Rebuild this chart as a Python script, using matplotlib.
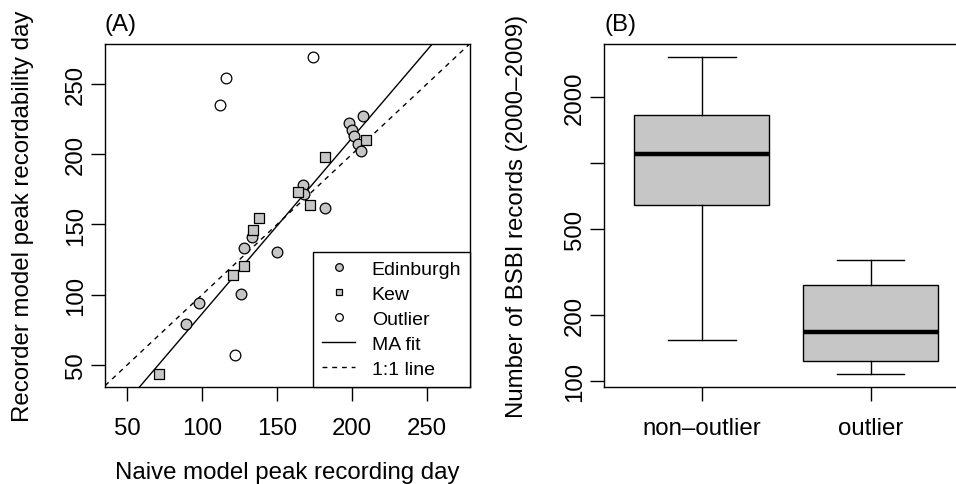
import matplotlib
matplotlib.use("Agg")
import matplotlib.pyplot as plt
from matplotlib.lines import Line2D

plt.rcParams['font.family'] = ['Liberation Sans', 'DejaVu Sans']

# Panel A: peak day estimates (naive vs recorder model)
edi_naive = [89.1, 98.0, 126.3, 127.8, 133.1, 150.0, 167.3, 168.0, 182.3,
             198.3, 200.3, 201.1, 204.0, 206.3, 207.1]
edi_recorder = [79.4, 94.4, 100.3, 133.2, 141.3, 130.4, 178.2, 171.8, 161.4,
                222.3, 217.3, 213.3, 207.4, 202.2, 227.5]
kew_naive = [71.1, 120.7, 128.0, 134.0, 138.0, 164.0, 172.2, 182.3, 209.1]
kew_recorder = [43.9, 114.3, 120.2, 146.2, 154.3, 173.2, 164.2, 198.3, 210.4]
out_naive = [116.3, 112.2, 174.0, 122.3]
out_recorder = [254.1, 235.1, 269.0, 57.2]

ma_intercept = -38.5
ma_slope = 1.25

# Panel B: number of BSBI records, boxplot summaries
groups = ["non\u2013outlier", "outlier"]
whislo = [154, 108]
q1 = [643, 123]
med = [1095, 168]
q3 = [1661, 276]
whishi = [3073, 359]

yticks_b = [100, 200, 500, 1000, 2000]
yticklabels_b = ["100", "200", "500", "", "2000"]

grey = "#c6c6c6"
fs = 17.3

W, H = 956, 485
fig = plt.figure(figsize=(W / 100, H / 100), dpi=100)
ax1 = fig.add_axes([105 / W, (H - 387.7) / H, 365 / W, 342.7 / H])
ax2 = fig.add_axes([604 / W, (H - 387.7) / H, 364.5 / W, 342.7 / H])

# ---- panel A
ax1.scatter(edi_naive, edi_recorder, s=7.7 ** 2, marker="o", facecolor=grey,
            edgecolor="black", linewidth=0.9, zorder=3)
ax1.scatter(kew_naive, kew_recorder, s=6.7 ** 2, marker="s", facecolor=grey,
            edgecolor="black", linewidth=0.9, zorder=3)
ax1.scatter(out_naive, out_recorder, s=7.7 ** 2, marker="o", facecolor="white",
            edgecolor="black", linewidth=0.9, zorder=3)
ax1.axline((0, ma_intercept), slope=ma_slope, color="black", lw=1.0)
ax1.axline((0, 0), slope=1, color="black", lw=1.0, ls=(0, (3.5, 3.5)))

ax1.set_xlim(35.3, 278.7)
ax1.set_ylim(34.6, 278.4)
ax1.set_xticks([50, 100, 150, 200, 250])
ax1.set_yticks([50, 100, 150, 200, 250])
ax1.set_xlabel("Naive model peak recording day", fontsize=fs, va="center")
ax1.set_ylabel("Recorder model peak recordability day", fontsize=fs, va="center")
ax1.xaxis.set_label_coords(0.5, -0.25)
ax1.yaxis.set_label_coords(-0.225, 0.5)
ax1.set_title("(A)", loc="left", fontsize=fs, pad=10)

handles = [
    Line2D([], [], marker="o", ls="none", markersize=5.5, markerfacecolor=grey,
           markeredgecolor="black", markeredgewidth=0.9),
    Line2D([], [], marker="s", ls="none", markersize=5, markerfacecolor=grey,
           markeredgecolor="black", markeredgewidth=0.9),
    Line2D([], [], marker="o", ls="none", markersize=5.5, markerfacecolor="white",
           markeredgecolor="black", markeredgewidth=0.9),
    Line2D([], [], color="black", lw=1.0),
    Line2D([], [], color="black", lw=1.0, ls=(0, (3.5, 3.5))),
]
leg = ax1.legend(handles, ["Edinburgh", "Kew", "Outlier", "MA fit", "1:1 line"],
                 loc="lower right", bbox_to_anchor=(1, 0), borderaxespad=0,
                 fontsize=14, fancybox=False, framealpha=1, edgecolor="black",
                 borderpad=0.45, labelspacing=0.38, handlelength=1.7,
                 handletextpad=0.85)
leg.get_frame().set_linewidth(1.0)
leg.set_zorder(5)

# ---- panel B
stats = [dict(med=med[i], q1=q1[i], q3=q3[i], whislo=whislo[i], whishi=whishi[i],
              label=groups[i]) for i in range(len(groups))]
ax2.bxp(stats, positions=[1, 2], widths=0.8, showfliers=False, patch_artist=True,
        boxprops=dict(facecolor=grey, edgecolor="black", linewidth=1.0),
        medianprops=dict(color="black", linewidth=3.2, solid_capstyle="butt"),
        whiskerprops=dict(color="black", linewidth=1.0),
        capprops=dict(color="black", linewidth=1.0), capwidths=0.4)
ax2.set_yscale("log")
ax2.set_ylim(94.2, 3516)
ax2.set_xlim(0.42, 2.58)
ax2.set_yticks(yticks_b)
ax2.set_yticklabels(yticklabels_b)
ax2.minorticks_off()
ax2.set_ylabel("Number of BSBI records (2000\u20132009)", fontsize=fs, va="center")
ax2.yaxis.set_label_coords(-0.24, 0.5)
ax2.set_title("(B)", loc="left", fontsize=fs, pad=10)

for ax in (ax1, ax2):
    ax.tick_params(direction="out", length=10, width=1.0, labelsize=fs, pad=3)
    ax.tick_params(axis="x", pad=12)
    for lab in ax.get_yticklabels():
        lab.set_rotation(90)
        lab.set_va("center")
    for sp in ax.spines.values():
        sp.set_linewidth(1.0)

fig.savefig("out.png", dpi=100)
